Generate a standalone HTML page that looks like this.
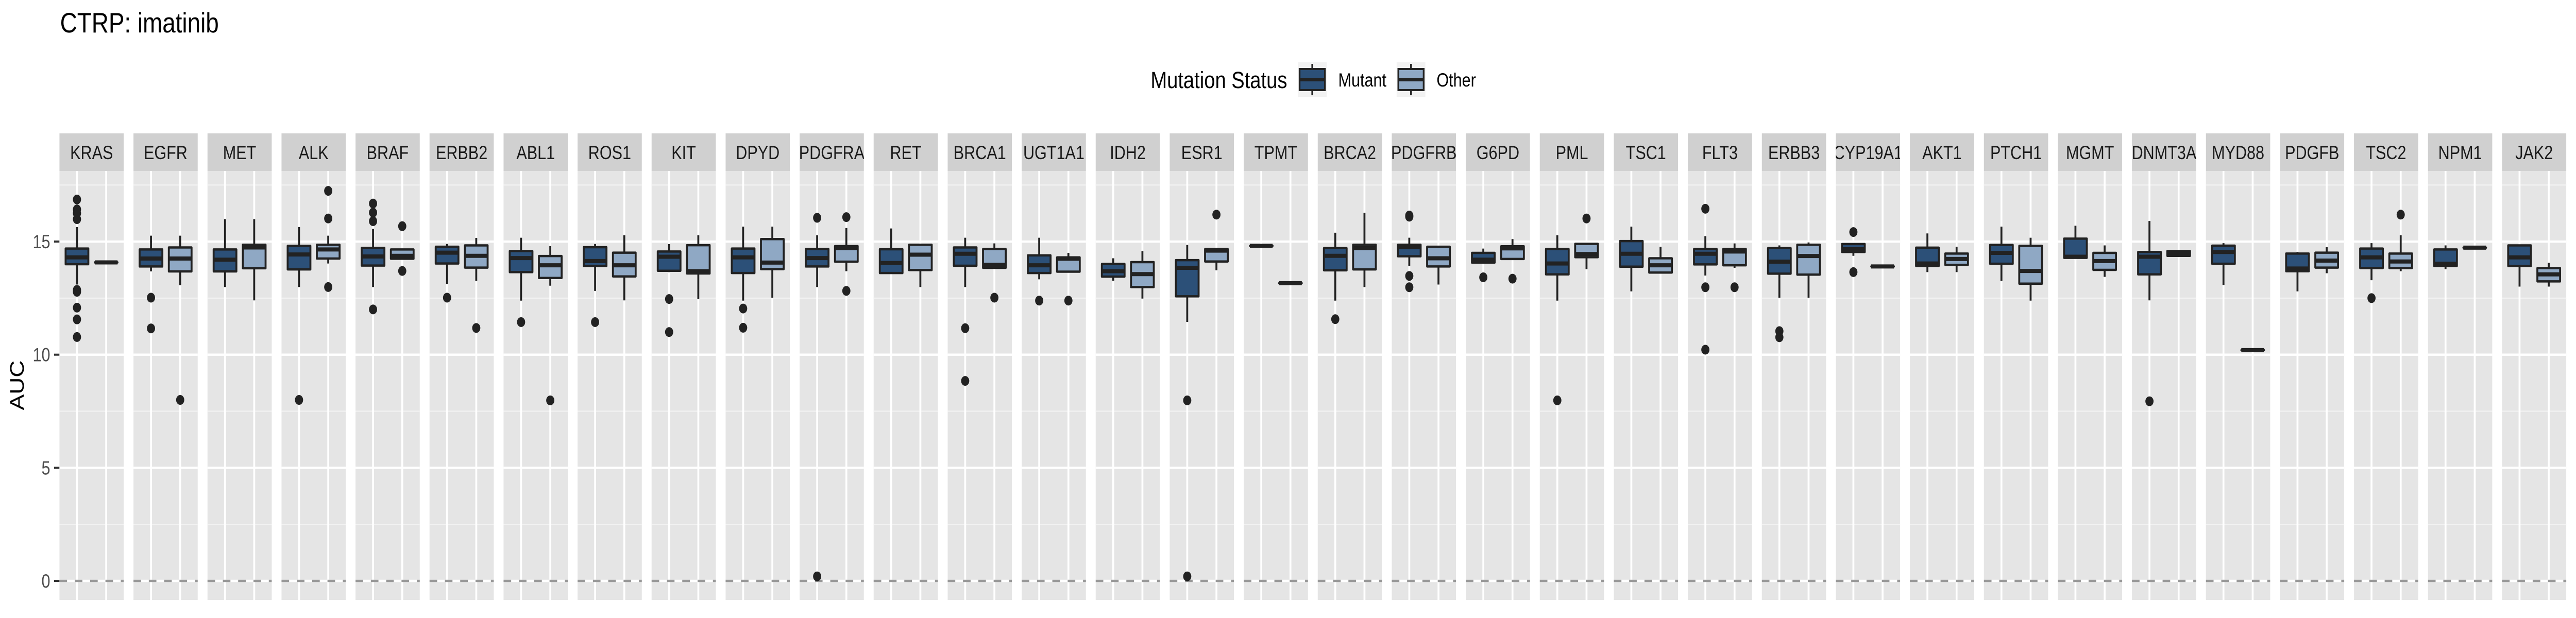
<!DOCTYPE html>
<html><head><meta charset="utf-8"><style>
html,body{margin:0;padding:0;background:#fff;width:100%;height:100%;overflow:hidden;}
svg{display:block;font-family:"Liberation Sans",Arial,sans-serif;width:100%;height:100%;}
</style></head><body>
<svg id="chart" xmlns="http://www.w3.org/2000/svg" viewBox="0 0 6000 1200" preserveAspectRatio="none">
<rect width="6000" height="1200" fill="#ffffff"/>
<text x="140" y="63" font-size="55" fill="#000">CTRP: imatinib</text>
<g>
  <text x="2680" y="171" font-size="45.8" fill="#000">Mutation Status</text>
  <g>
    <rect x="3023" y="121" width="67" height="67" fill="#f2f2f2"/>
    <line x1="3056.5" y1="124" x2="3056.5" y2="185" stroke="#222" stroke-width="4"/>
    <rect x="3027" y="134" width="59" height="41" fill="#2c5078" stroke="#222" stroke-width="4"/>
    <line x1="3027" y1="154.5" x2="3086" y2="154.5" stroke="#222" stroke-width="7"/>
    <text x="3117" y="168" font-size="36.7" fill="#000">Mutant</text>
  </g>
  <g>
    <rect x="3253" y="121" width="67" height="67" fill="#f2f2f2"/>
    <line x1="3286.5" y1="124" x2="3286.5" y2="185" stroke="#222" stroke-width="4"/>
    <rect x="3257" y="134" width="59" height="41" fill="#8fa8c4" stroke="#222" stroke-width="4"/>
    <line x1="3257" y1="154.5" x2="3316" y2="154.5" stroke="#222" stroke-width="7"/>
    <text x="3346" y="168" font-size="36.7" fill="#000">Other</text>
  </g>
</g>
<text x="0" y="0" font-size="45.8" fill="#000" text-anchor="middle" transform="translate(55,748) rotate(-90)">AUC</text>
<g id="yaxis"></g>
<g id="panels"></g>
</svg>
<script>
const genes = ["KRAS","EGFR","MET","ALK","BRAF","ERBB2","ABL1","ROS1","KIT","DPYD","PDGFRA","RET","BRCA1","UGT1A1","IDH2","ESR1","TPMT","BRCA2","PDGFRB","G6PD","PML","TSC1","FLT3","ERBB3","CYP19A1","AKT1","PTCH1","MGMT","DNMT3A","MYD88","PDGFB","TSC2","NPM1","JAK2"];
// [lowWhisker, q1, median, q3, highWhisker]
const mutantStats = [
[13.1,14.0,14.3,14.69,15.64],[13.68,13.9,14.25,14.65,15.26],[12.99,13.68,14.2,14.65,15.99],[12.99,13.77,14.43,14.81,15.64],
[12.99,13.94,14.34,14.72,15.56],[13.13,14.03,14.51,14.77,14.9],[12.39,13.65,14.27,14.58,15.17],[12.82,13.92,14.14,14.75,14.9],
[13.65,13.71,14.33,14.56,14.89],[12.39,13.61,14.3,14.69,15.66],[12.99,13.9,14.27,14.67,15.28],[13.61,13.61,14.05,14.66,15.58],
[12.99,13.93,14.46,14.74,15.17],[13.33,13.61,13.95,14.39,15.17],[13.27,13.45,13.69,14.01,14.26],[11.45,12.58,13.84,14.18,14.85],
[14.81,14.81,14.81,14.81,14.81],[12.39,13.73,14.37,14.71,15.39],[13.93,14.35,14.75,14.86,15.17],[14.07,14.07,14.2,14.5,14.69],
[12.39,13.55,14.03,14.67,15.28],[12.8,13.89,14.46,15.02,15.66],[13.5,13.99,14.46,14.67,15.24],[12.52,13.58,14.11,14.71,14.83],
[14.37,14.54,14.66,14.89,14.89],[13.65,13.92,14.03,14.73,15.36],[13.26,14.02,14.5,14.85,15.66],[14.28,14.28,14.33,15.13,15.7],
[12.4,13.55,14.33,14.54,15.91],[13.08,14.02,14.54,14.82,14.93],[12.8,13.69,13.81,14.47,14.54],[13.29,13.83,14.3,14.69,14.93],
[13.78,13.92,14.02,14.65,14.83],[13.01,13.92,14.3,14.83,14.83]];
const mutantOutliers = [
[16.86,16.42,16.25,15.99,12.86,12.78,12.08,11.56,10.78],[12.52,11.16],[],[8.0],[16.68,16.28,15.9,12.0],[12.52],
[11.44],[11.44],[12.46,11.0],[12.04,11.19],[16.05,0.2],[],[11.17,8.84],[12.39],[],[7.98,0.2],[],[11.57],
[16.15,16.1,13.48,12.98],[13.42],[7.98],[],[16.45,12.98,10.22],[11.04,10.77],[15.42,13.65],[],[],[],[7.94],[],[],[12.5],[],[]];
const otherStats = [
[14.08,14.08,14.08,14.08,14.08],[13.07,13.68,14.25,14.74,15.26],[12.4,13.82,14.74,14.86,15.99],[14.03,14.25,14.65,14.86,15.26],
[14.24,14.24,14.37,14.65,14.65],[13.26,13.85,14.37,14.83,15.16],[13.05,13.39,13.95,14.36,14.8],[12.4,13.46,13.95,14.51,15.28],
[12.46,13.59,13.69,14.84,15.28],[12.52,13.78,14.07,15.11,15.66],[13.69,14.11,14.71,14.8,15.6],[12.99,13.74,14.42,14.86,14.86],
[13.84,13.84,13.97,14.67,14.92],[13.67,13.67,14.24,14.3,14.5],[12.48,12.99,13.56,14.09,14.58],[13.73,14.12,14.6,14.67,14.67],
[13.16,13.16,13.16,13.16,13.16],[12.99,13.77,14.71,14.86,16.27],[13.1,13.9,14.26,14.77,14.79],[14.23,14.23,14.7,14.79,15.11],
[13.78,14.31,14.45,14.9,14.92],[13.63,13.63,13.95,14.26,14.77],[13.84,13.95,14.56,14.67,14.92],[12.52,13.54,14.36,14.86,14.96],
[13.9,13.9,13.9,13.9,13.9],[13.65,13.97,14.23,14.47,14.77],[12.39,13.14,13.7,14.81,15.17],[13.44,13.75,14.14,14.5,14.83],
[14.37,14.37,14.48,14.58,14.58],[10.2,10.2,10.2,10.2,10.2],[13.6,13.85,14.16,14.51,14.75],[13.69,13.83,14.12,14.47,15.28],
[14.73,14.73,14.73,14.73,14.73],[13.01,13.24,13.55,13.83,14.06]];
const otherOutliers = [
[],[8.0],[],[17.24,16.02,12.99],[15.68,13.7],[11.18],[7.98],[],[],[],[16.08,12.82],[],[12.52],[12.39],[],[16.19],[],[],
[],[13.36],[16.02],[],[12.98],[],[],[],[],[],[],[],[],[16.19],[],[]];
const yTicks = [0,5,10,15];
const yTickLabels = ["0","5","10","15"];
const yMinor = [2.5,7.5,12.5,17.5];

const NS="http://www.w3.org/2000/svg";
const panelLeft=138.5, pitch=172.4, panelW=149.6, panelTop=332, panelBottom=1165, stripTop=259;
const y0px=1128, unit=43.93;
function yScale(v){return y0px - v*unit;}
function xScale(panel, group){
  return panelLeft + panel*pitch + (group-0.4)/2.2*panelW;
}
function mk(tag, attrs, parent){const e=document.createElementNS(NS,tag);for(const k in attrs)e.setAttribute(k,attrs[k]);parent.appendChild(e);return e;}

const yaxis=document.getElementById('yaxis');
yTicks.forEach((t,i)=>{
  const tk=mk('line',{x1:126,x2:138.5,y1:yScale(t),y2:yScale(t),stroke:'#333',"stroke-width":4},yaxis);
  
  
  const lb=mk('text',{x:117,y:yScale(t)+13,"font-size":36.7,fill:'#4d4d4d',"text-anchor":'end'},yaxis);
  lb.textContent=yTickLabels[i];
  
  
});

const panels=document.getElementById('panels');
const defs=mk('defs',{},panels);
const boxW=53;
function drawBox(g,p,grp,st,outs,fill,name){
  const bx=mk('g',{},g);
  
  
  const cx=xScale(p,grp);
  mk('line',{x1:cx,x2:cx,y1:yScale(st[4]),y2:yScale(st[0]),stroke:'#222',"stroke-width":4.5},bx);
  const top=yScale(st[3]), bot=yScale(st[1]);
  mk('rect',{x:cx-boxW/2,y:top,width:boxW,height:Math.max(bot-top,0.01),fill:fill,stroke:'#222',"stroke-width":4.5,"stroke-linejoin":'round'},bx);
  mk('line',{x1:cx-boxW/2,x2:cx+boxW/2,y1:yScale(st[2]),y2:yScale(st[2]),stroke:'#222',"stroke-width":8},bx);
  outs.forEach(o=>{
    const c=mk('circle',{cx:cx,cy:yScale(o),r:9.5,fill:'#222'},bx);
    
    
  });
}
genes.forEach((gname,p)=>{
  const left=panelLeft+p*pitch;
  const g=mk('g',{},panels);
  
  
  const cp=mk('clipPath',{id:'cp'+p},defs);
  mk('rect',{x:left,y:stripTop,width:panelW,height:panelTop-stripTop},cp);
  const strip=mk('rect',{x:left,y:stripTop,width:panelW,height:panelTop-stripTop,fill:'#d0d0d0'},g);
  
  
  const st=mk('text',{x:left+panelW/2,y:309,"font-size":36.7,fill:'#1a1a1a',"text-anchor":'middle',"clip-path":'url(#cp'+p+')'},g);
  st.textContent=gname;
  
  
  mk('rect',{x:left,y:panelTop,width:panelW,height:panelBottom-panelTop,fill:'#e5e5e5'},g);
  yMinor.forEach(v=>mk('line',{x1:left,x2:left+panelW,y1:yScale(v),y2:yScale(v),stroke:'#f2f2f2',"stroke-width":2.2},g));
  yTicks.forEach(v=>mk('line',{x1:left,x2:left+panelW,y1:yScale(v),y2:yScale(v),stroke:'#fff',"stroke-width":4.4},g));
  [1,2].forEach(k=>mk('line',{x1:xScale(p,k),x2:xScale(p,k),y1:panelTop,y2:panelBottom,stroke:'#fff',"stroke-width":4.4},g));
  const ref=mk('line',{x1:left,x2:left+panelW,y1:yScale(0),y2:yScale(0),stroke:'#999',"stroke-width":4.4,"stroke-dasharray":'17.7,18'},g);
  
  
  drawBox(g,p,1,mutantStats[p],mutantOutliers[p],'#2c5078','box-mutant');
  drawBox(g,p,2,otherStats[p],otherOutliers[p],'#8fa8c4','box-other');
});
</script>
</body></html>
